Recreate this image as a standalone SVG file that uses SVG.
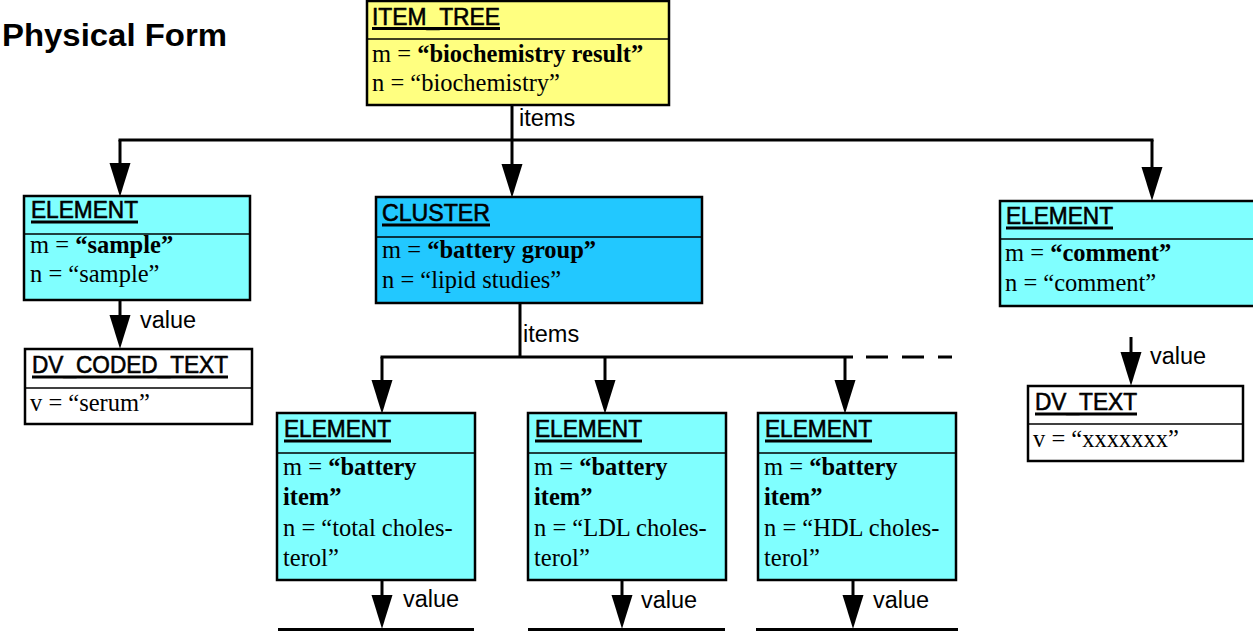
<svg xmlns="http://www.w3.org/2000/svg" width="1253" height="631" viewBox="0 0 1253 631">
<defs>
<marker id="arr" markerUnits="userSpaceOnUse" markerWidth="34" markerHeight="22" viewBox="0 0 32 20" refX="22" refY="10" orient="auto">
<path d="M0,0 L32,10 L0,20 Z" fill="#000"/>
</marker>
</defs>
<style>
.box{stroke:#000;stroke-width:2.5}
.div{stroke:#000;stroke-width:1.5}
.yel{fill:#ffff80}
.cyan{fill:#80ffff}
.blue{fill:#22c8ff}
.wht{fill:#fff}
.hd{font-family:"Liberation Sans",Arial,sans-serif;font-size:24px;fill:#000;stroke:#000;stroke-width:0.6}
.ul{stroke:#000;stroke-width:3}
.tx{font-family:"Liberation Serif","Times New Roman",serif;font-size:24.5px;fill:#000}
.b{font-weight:bold}
.lbl{font-family:"Liberation Sans",Arial,sans-serif;font-size:23.5px;fill:#000}
.c{fill:none;stroke:#000;stroke-width:3}
.ca{fill:none;stroke:#000;stroke-width:3;marker-end:url(#arr)}
</style>

<text x="2" y="46" font-family="'Liberation Sans',Arial,sans-serif" font-size="31" font-weight="bold" textLength="225" lengthAdjust="spacingAndGlyphs">Physical Form</text>

<g id="connectors">
<line class="c" x1="512" y1="105" x2="512" y2="140"/>
<line class="c" x1="118.5" y1="140" x2="1153.5" y2="140"/>
<line class="ca" x1="512" y1="140" x2="512" y2="187"/>
<line class="ca" x1="120" y1="140" x2="120" y2="186"/>
<line class="ca" x1="1152" y1="140" x2="1152" y2="190"/>
<line class="ca" x1="120" y1="300" x2="120" y2="338"/>
<line class="ca" x1="1131" y1="337" x2="1131" y2="375"/>
<line class="c" x1="520" y1="303" x2="520" y2="357"/>
<line class="c" x1="380.5" y1="357" x2="853" y2="357"/>
<line class="c" x1="866" y1="357" x2="952" y2="357" stroke-dasharray="22 14" stroke-width="2.5"/>
<line class="ca" x1="382" y1="357" x2="382" y2="403"/>
<line class="ca" x1="605" y1="357" x2="605" y2="403" stroke-width="4"/>
<line class="ca" x1="845" y1="357" x2="845" y2="403" stroke-width="2"/>
<line class="ca" x1="382" y1="580" x2="382" y2="618"/>
<line class="ca" x1="622" y1="580" x2="622" y2="618"/>
<line class="ca" x1="853" y1="581" x2="853" y2="618" stroke-width="4"/>
<line class="c" x1="278" y1="629.5" x2="474" y2="629.5" stroke-width="2"/>
<line class="c" x1="528" y1="629.5" x2="725" y2="629.5" stroke-width="2"/>
<line class="c" x1="756" y1="629.5" x2="958" y2="629.5" stroke-width="2"/>
<text class="lbl" x="519" y="126">items</text>
<text class="lbl" x="523" y="342">items</text>
<text class="lbl" x="140" y="328">value</text>
<text class="lbl" x="1150" y="364">value</text>
<text class="lbl" x="403" y="607">value</text>
<text class="lbl" x="641" y="608">value</text>
<text class="lbl" x="873" y="608">value</text>
</g>

<g id="item_tree">
<rect class="box yel" x="367" y="1" width="302" height="104"/>
<line class="div" x1="367" y1="39" x2="669" y2="39"/>
<text class="hd" x="372" y="25" font-size="27" textLength="128" lengthAdjust="spacingAndGlyphs">ITEM_TREE</text>
<line class="ul" x1="372" y1="28.5" x2="500" y2="28.5"/>
<text class="tx" x="372" y="62">m = <tspan class="b">“biochemistry result”</tspan></text>
<text class="tx" x="372" y="91">n = “biochemistry”</text>
</g>

<g id="element_sample">
<rect class="box cyan" x="24" y="196" width="226" height="104"/>
<line class="div" x1="24" y1="234" x2="250" y2="234"/>
<text class="hd" x="31" y="218" textLength="107" lengthAdjust="spacingAndGlyphs">ELEMENT</text>
<line class="ul" x1="31" y1="222" x2="138" y2="222"/>
<text class="tx" x="30" y="253">m = <tspan class="b">“sample”</tspan></text>
<text class="tx" x="30" y="282">n = “sample”</text>
</g>

<g id="dv_coded_text">
<rect class="box wht" x="25" y="349" width="227" height="75"/>
<line class="div" x1="25" y1="388" x2="252" y2="388"/>
<text class="hd" x="32" y="373" textLength="196" lengthAdjust="spacingAndGlyphs">DV_CODED_TEXT</text>
<line class="ul" x1="32" y1="377" x2="228" y2="377"/>
<text class="tx" x="30" y="411">v = “serum”</text>
</g>

<g id="cluster">
<rect class="box blue" x="376" y="197" width="326" height="106"/>
<line class="div" x1="376" y1="237" x2="702" y2="237"/>
<text class="hd" x="382" y="221" textLength="108" lengthAdjust="spacingAndGlyphs">CLUSTER</text>
<line class="ul" x1="382" y1="225" x2="490" y2="225"/>
<text class="tx" x="382" y="258">m = <tspan class="b">“battery group”</tspan></text>
<text class="tx" x="382" y="288">n = “lipid studies”</text>
</g>

<g id="element_comment">
<rect class="box cyan" x="1000" y="201" width="260" height="105"/>
<line class="div" x1="1000" y1="239" x2="1253" y2="239"/>
<text class="hd" x="1006" y="224" textLength="107" lengthAdjust="spacingAndGlyphs">ELEMENT</text>
<line class="ul" x1="1006" y1="228" x2="1113" y2="228"/>
<text class="tx" x="1005" y="261">m = <tspan class="b">“comment”</tspan></text>
<text class="tx" x="1005" y="291">n = “comment”</text>
</g>

<g id="dv_text">
<rect class="box wht" x="1028" y="386" width="215" height="75"/>
<line class="div" x1="1028" y1="424" x2="1243" y2="424"/>
<text class="hd" x="1035" y="410" textLength="102" lengthAdjust="spacingAndGlyphs">DV_TEXT</text>
<line class="ul" x1="1035" y1="414" x2="1137" y2="414"/>
<text class="tx" x="1033" y="447">v = “xxxxxxx”</text>
</g>

<g id="element_total">
<rect class="box cyan" x="277" y="413" width="198" height="167"/>
<line class="div" x1="277" y1="453" x2="475" y2="453"/>
<text class="hd" x="284" y="437" textLength="107" lengthAdjust="spacingAndGlyphs">ELEMENT</text>
<line class="ul" x1="284" y1="441" x2="391" y2="441"/>
<text class="tx" x="283" y="475">m = <tspan class="b">“battery</tspan></text>
<text class="tx b" x="283" y="505">item”</text>
<text class="tx" x="283" y="536">n = “total choles-</text>
<text class="tx" x="283" y="566">terol”</text>
</g>

<g id="element_ldl">
<rect class="box cyan" x="528" y="413" width="198" height="167"/>
<line class="div" x1="528" y1="453" x2="726" y2="453"/>
<text class="hd" x="535" y="437" textLength="107" lengthAdjust="spacingAndGlyphs">ELEMENT</text>
<line class="ul" x1="535" y1="441" x2="642" y2="441"/>
<text class="tx" x="534" y="475">m = <tspan class="b">“battery</tspan></text>
<text class="tx b" x="534" y="505">item”</text>
<text class="tx" x="534" y="536">n = “LDL choles-</text>
<text class="tx" x="534" y="566">terol”</text>
</g>

<g id="element_hdl">
<rect class="box cyan" x="758" y="413" width="198" height="167"/>
<line class="div" x1="758" y1="453" x2="956" y2="453"/>
<text class="hd" x="765" y="437" textLength="107" lengthAdjust="spacingAndGlyphs">ELEMENT</text>
<line class="ul" x1="765" y1="441" x2="872" y2="441"/>
<text class="tx" x="764" y="475">m = <tspan class="b">“battery</tspan></text>
<text class="tx b" x="764" y="505">item”</text>
<text class="tx" x="764" y="536">n = “HDL choles-</text>
<text class="tx" x="764" y="566">terol”</text>
</g>
</svg>
